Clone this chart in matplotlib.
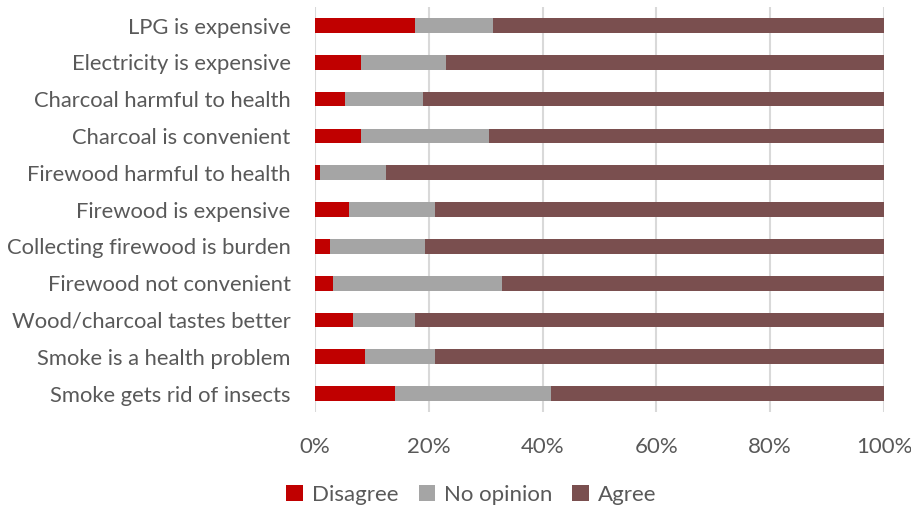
import matplotlib
matplotlib.use("Agg")
import matplotlib.pyplot as plt
import numpy as np

categories = [
    "LPG is expensive",
    "Electricity is expensive",
    "Charcoal harmful to health",
    "Charcoal is convenient",
    "Firewood harmful to health",
    "Firewood is expensive",
    "Collecting firewood is burden",
    "Firewood not convenient",
    "Wood/charcoal tastes better",
    "Smoke is a health problem",
    "Smoke gets rid of insects",
]
disagree = [17.5, 8.0, 5.2, 8.0, 0.9, 6.0, 2.7, 3.2, 6.6, 8.8, 14.1]
no_opinion = [13.7, 15.1, 13.7, 22.6, 11.5, 15.1, 16.6, 29.6, 10.9, 12.3, 27.4]
agree = [68.8, 76.9, 81.1, 69.4, 87.6, 78.9, 80.7, 67.2, 82.5, 78.9, 58.5]
series_names = ["Disagree", "No opinion", "Agree"]
colors = ["#C00000", "#A5A5A5", "#7A4F4F"]
xticks = [0, 20, 40, 60, 80, 100]

plt.rcParams["font.family"] = ["Lato", "DejaVu Sans"]
text_color = "#595959"
fs = 16

fig = plt.figure(figsize=(9.12, 5.08), dpi=100)
ax = fig.add_axes([0.3454, 0.189, 0.6239, 0.797])

y = np.arange(len(categories))
left = np.zeros(len(categories))
for name, vals, c in zip(series_names, [disagree, no_opinion, agree], colors):
    vals = np.array(vals)
    ax.barh(y, vals, left=left, height=0.4, color=c, label=name, zorder=3)
    left += vals

ax.set_ylim(len(categories) - 0.5, -0.5)
ax.set_xlim(0, 100)
ax.set_yticks(y)
ax.set_yticklabels(categories, fontsize=15.8, color=text_color)
ax.set_xticks(xticks)
ax.set_xticklabels([f"{v}%" for v in xticks], fontsize=fs, color=text_color)
ax.tick_params(axis="both", length=0)
ax.tick_params(axis="y", pad=17.5)
ax.tick_params(axis="x", pad=18)
ax.grid(axis="x", color="#D9D9D9", linewidth=1.5, zorder=0)
for s in ax.spines.values():
    s.set_visible(False)

handles, labels = ax.get_legend_handles_labels()
fig.legend(handles, labels, loc="center", bbox_to_anchor=(0.517, 0.026), ncol=3,
           frameon=False, fontsize=fs, labelcolor=text_color,
           handlelength=0.75, handleheight=0.75, handletextpad=0.4, columnspacing=0.9)

fig.savefig("out.png", dpi=100)
